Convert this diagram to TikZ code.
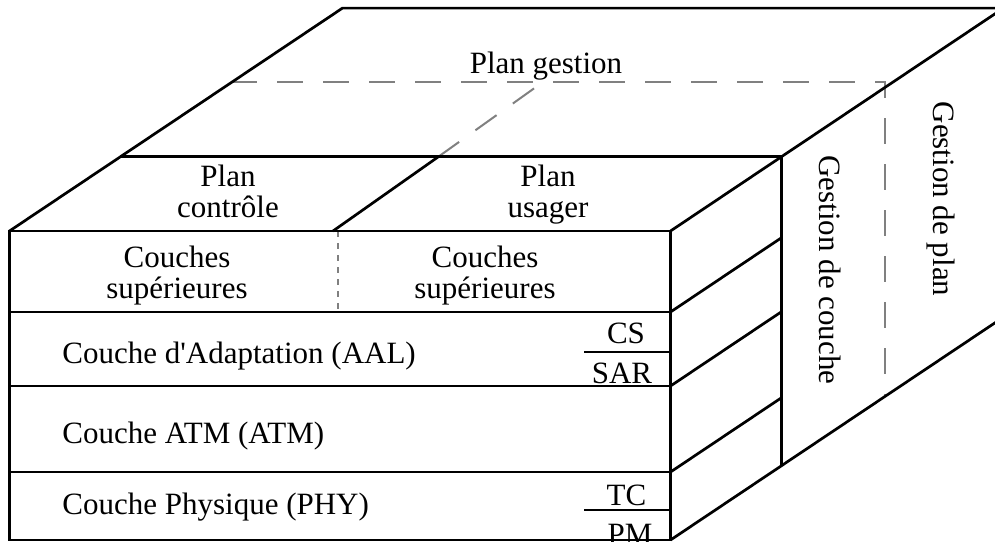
\documentclass[tikz,border=0pt]{standalone}
\usepackage{fontspec}
\setmainfont{Liberation Serif}
\usetikzlibrary{calc}
\tikzset{
  edge/.style={line width=1.35pt},
  hidden/.style={gray,line width=1pt,dash pattern=on 13pt off 10pt},
  hiddenfine/.style={gray,line width=0.9pt,dash pattern=on 3pt off 3pt},
  lab/.style={font=\fontsize{15.5}{15.5}\selectfont,inner sep=0pt},
  twolab/.style={lab,align=center},
  vlab/.style={lab,rotate=-90}
}

\begin{document}
\begin{tikzpicture}[x=0.5pt,y=-0.5pt]
\clip (0,0) rectangle (995,541);
% depth step of the cube (one plane behind the other)
\def\dx{111}\def\dy{-74.3}
\coordinate (FTL) at (9.5,231);   \coordinate (FTR) at (670.5,231);
\coordinate (FBL) at (9.5,540);   \coordinate (FBR) at (670.5,540);
\coordinate (MTL) at ($(FTL)+(\dx,\dy)$);
\coordinate (MTR) at ($(FTR)+(\dx,\dy)$);
\coordinate (BTL) at ($(FTL)+(3*\dx,3*\dy)$);
\coordinate (BTR) at ($(FTR)+(3*\dx,3*\dy)$);
\coordinate (BBR) at ($(FBR)+(3*\dx,3*\dy)$);
% ---------------- hidden edges ----------------
\draw[hidden] (231,82) -- (885,82) -- (885,396);
\draw[hidden] (438,157) -- (543,82);
\draw[hiddenfine] (338,231) -- (338,312);
% ---------------- top ----------------
\draw[edge] (FTL) -- (BTL) -- (BTR);
\draw[edge] (FTR) -- (BTR);
\draw[edge] (MTL) -- (MTR);
\draw[edge] (333,231) -- (438,157);
% ---------------- front face ----------------
\draw[edge] (FTL) rectangle (FBR);
\foreach \y in {312,386,472}
  \draw[edge] (9.5,\y) -- (670.5,\y);
\draw[edge] (584,352) -- (670.5,352);
\draw[edge] (584,510) -- (670.5,510);
% ---------------- right side ----------------
\foreach \y in {312,386,472}
  \draw[edge] (670.5,\y) -- ++(\dx,\dy);
\draw[edge] (MTR) -- ($(FBR)+(\dx,\dy)$);
\draw[edge] (FBR) -- (BBR);
% ---------------- labels ----------------
\node[lab,anchor=base] (gest) at (546,73) {Plan gestion};
\node[twolab] (ctrl) at (228,191) {Plan\\contrôle};
\node[twolab] (usag) at (548,194.5) {Plan\\usager};
\node[twolab] (supl) at (177,276) {Couches\\supérieures};
\node[twolab] (supr) at (485,276) {Couches\\supérieures};
\node[lab,anchor=base west] (aal) at (62,363) {Couche d\textquotesingle Adaptation (AAL)};
\node[lab,anchor=base west] (atm) at (62,443) {Couche ATM (ATM)};
\node[lab,anchor=base west] (phy) at (62,514) {Couche Physique (PHY)};
\node[lab,anchor=base] (cs) at (626,343) {CS};
\node[lab,anchor=base] (sar) at (622,383) {SAR};
\node[lab,anchor=base] (tc) at (626.5,505) {TC};
\node[lab,anchor=base] (pm) at (630,544) {PM};
\node[vlab] (gcou) at (830,270) {Gestion de couche};
\node[vlab] (gpla) at (941,199) {Gestion de plan};
\end{tikzpicture}
\end{document}
